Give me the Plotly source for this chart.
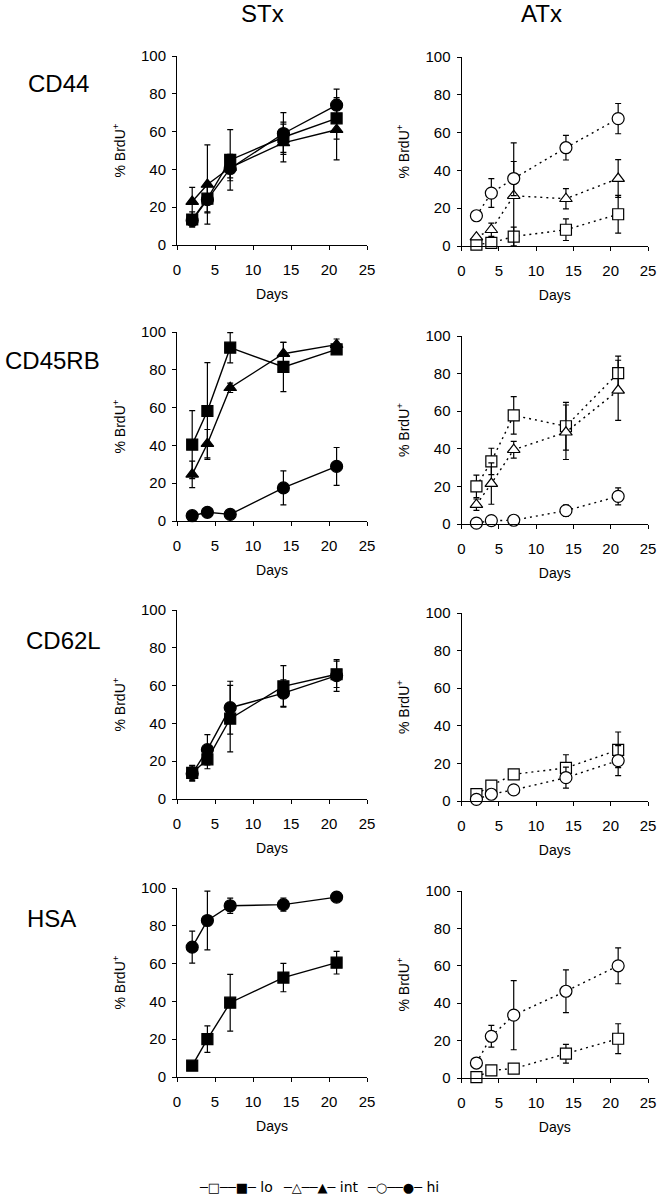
import plotly.graph_objects as go

W, H = 662, 1199

days = [2, 4, 7, 14, 21]

# CD44
cd44_stx_lo = [13.5, 24.5, 45, 57, 67]
cd44_stx_lo_err = [4, 7, 16, 8, 11]
cd44_stx_int = [23, 32, 41, 54, 61]
cd44_stx_int_err = [7.5, 21, 7, 10, 16]
cd44_stx_hi = [13, 24, 40.5, 59, 74]
cd44_stx_hi_err = [3, 7, 5, 11, 8.5]
cd44_atx_lo = [0.7, 1.7, 5, 8.6, 16.8]
cd44_atx_lo_err = [0, 0, 5, 5.7, 10]
cd44_atx_int = [4.7, 8.6, 26.6, 25, 35.7]
cd44_atx_int_err = [0, 3.5, 28, 5.4, 10]
cd44_atx_hi = [16, 28, 35.7, 52, 67.4]
cd44_atx_hi_err = [0, 7.6, 9, 6.5, 8]

# CD45RB
cd45_stx_lo = [40.4, 58.2, 91.7, 81.5, 90.8]
cd45_stx_lo_err = [18, 25.6, 8, 13, 2]
cd45_stx_int = [24.7, 40.9, 70.5, 88.5, 93.3]
cd45_stx_int_err = [7, 7.5, 2.5, 6, 3]
cd45_stx_hi = [2.8, 4.6, 3.5, 17.5, 28.9]
cd45_stx_hi_err = [0, 2.5, 0, 9, 10]
cd45_atx_lo = [20, 33.3, 57.8, 52, 80.3]
cd45_atx_lo_err = [6, 7, 10, 12.7, 9]
cd45_atx_int = [10.3, 21.5, 39.5, 48.8, 71.1]
cd45_atx_int_err = [3, 11, 4.5, 14.5, 16]
cd45_atx_hi = [0.5, 1.8, 2, 7.1, 14.7]
cd45_atx_hi_err = [0, 0, 0, 3, 4.5]

# CD62L
cd62_stx_lo = [13.8, 21, 42.5, 59.6, 66]
cd62_stx_lo_err = [4, 5, 17.6, 11, 7]
cd62_stx_hi = [13.4, 26.1, 48.3, 56, 65.3]
cd62_stx_hi_err = [4, 8, 14, 7, 8.4]
cd62_atx_lo = [3.7, 8.2, 14.2, 17.6, 27.2]
cd62_atx_lo_err = [0, 0, 0, 7, 9.5]
cd62_atx_hi = [0.9, 3.6, 5.9, 12.4, 21.5]
cd62_atx_hi_err = [0, 0, 0, 5.6, 8]

# HSA
hsa_stx_lo = [6, 20, 39.3, 52.6, 60.5]
hsa_stx_lo_err = [0, 7, 15, 7.5, 6]
hsa_stx_hi = [68.7, 82.8, 90.6, 91.2, 95.2]
hsa_stx_hi_err = [8.5, 15.5, 4, 3.5, 0]
hsa_atx_lo = [0.5, 4.1, 5, 13, 21]
hsa_atx_lo_err = [0, 0, 0, 5, 8]
hsa_atx_hi = [8, 22.3, 33.6, 46.4, 60]
hsa_atx_hi_err = [0, 5.8, 18.5, 11.4, 9.6]

row_labels = ["CD44", "CD45RB", "CD62L", "HSA"]
col_labels = ["STx", "ATx"]

panels = [
    [[("lo", cd44_stx_lo, cd44_stx_lo_err), ("int", cd44_stx_int, cd44_stx_int_err), ("hi", cd44_stx_hi, cd44_stx_hi_err)],
     [("lo", cd44_atx_lo, cd44_atx_lo_err), ("int", cd44_atx_int, cd44_atx_int_err), ("hi", cd44_atx_hi, cd44_atx_hi_err)]],
    [[("lo", cd45_stx_lo, cd45_stx_lo_err), ("int", cd45_stx_int, cd45_stx_int_err), ("hi", cd45_stx_hi, cd45_stx_hi_err)],
     [("lo", cd45_atx_lo, cd45_atx_lo_err), ("int", cd45_atx_int, cd45_atx_int_err), ("hi", cd45_atx_hi, cd45_atx_hi_err)]],
    [[("lo", cd62_stx_lo, cd62_stx_lo_err), ("hi", cd62_stx_hi, cd62_stx_hi_err)],
     [("lo", cd62_atx_lo, cd62_atx_lo_err), ("hi", cd62_atx_hi, cd62_atx_hi_err)]],
    [[("lo", hsa_stx_lo, hsa_stx_lo_err), ("hi", hsa_stx_hi, hsa_stx_hi_err)],
     [("lo", hsa_atx_lo, hsa_atx_lo_err), ("hi", hsa_atx_hi, hsa_atx_hi_err)]],
]

symbols = {"lo": "square", "int": "triangle-up", "hi": "circle"}
sizes = {"lo": 11, "int": 11, "hi": 12}

# pixel layout of the plot areas
col_x = [(177, 367), (461.5, 648)]
row_y = [[(56, 245), (332, 521), (610, 799), (888, 1077)],
         [(57, 246), (336, 524), (613, 801), (891, 1078)]]

FONT = "Liberation Sans, Arial, sans-serif"

fig = go.Figure()
layout = dict(width=W, height=H, margin=dict(l=0, r=0, t=0, b=0),
              paper_bgcolor="white", plot_bgcolor="white", showlegend=False,
              font=dict(family=FONT, color="black"))
annotations = []

n = 0
for r in range(4):
    for c in range(2):
        n += 1
        xa = "x" if n == 1 else "x%d" % n
        ya = "y" if n == 1 else "y%d" % n
        x0, x1 = col_x[c]
        ytop, ybot = row_y[c][r]
        layout["xaxis" if n == 1 else "xaxis%d" % n] = dict(
            domain=[x0 / W, x1 / W], anchor=ya, range=[0, 25], tick0=0, dtick=5,
            showline=True, linecolor="black", linewidth=1, ticks="outside",
            ticklen=4, tickcolor="black", tickwidth=1, showgrid=False,
            zeroline=False, tickfont=dict(size=15), ticklabelstandoff=7,
            automargin=False,
            title=dict(text="Days", font=dict(size=14), standoff=12))
        layout["yaxis" if n == 1 else "yaxis%d" % n] = dict(
            domain=[1 - ybot / H, 1 - ytop / H], anchor=xa, range=[0, 100],
            tick0=0, dtick=20, showline=True, linecolor="black", linewidth=1,
            ticks="outside", ticklen=4, tickcolor="black", tickwidth=1,
            showgrid=False, zeroline=False, tickfont=dict(size=15),
            ticklabelstandoff=3, automargin=False,
            title=dict(text="% BrdU<sup>+</sup>", font=dict(size=14), standoff=12))
        for name, vals, err in panels[r][c]:
            minus = [min(e, v) for e, v in zip(err, vals)]
            fill = "black" if c == 0 else "white"
            fig.add_trace(go.Scatter(
                x=days, y=vals, mode="lines+markers", xaxis=xa, yaxis=ya,
                cliponaxis=False, name=name,
                line=dict(color="black", width=1.4,
                          dash="solid" if c == 0 else "2px,4px"),
                marker=dict(symbol=symbols[name], size=sizes[name], color=fill,
                            line=dict(color="black", width=1.2)),
                error_y=dict(type="data", array=err, arrayminus=minus,
                             color="black", thickness=1.2, width=3)))

# column and row headings
for c, lab in enumerate(col_labels):
    annotations.append(dict(text=lab, xref="paper", yref="paper",
                            x=[262, 541][c] / W, y=1 - 14 / H, showarrow=False,
                            font=dict(size=24), xanchor="center", yanchor="middle"))
row_pos = [(58, 83), (52, 360), (63, 640), (51, 918)]
for lab, (px, py) in zip(row_labels, row_pos):
    annotations.append(dict(text=lab, xref="paper", yref="paper",
                            x=px / W, y=1 - py / H, showarrow=False,
                            font=dict(size=24), xanchor="center", yanchor="middle"))

# key at the bottom
key = [("\u2500\u25a1\u2500\u2500\u25a0\u2500", "lo", 197),
       ("\u2500\u25b3\u2500\u2500\u25b2\u2500", "int", 281),
       ("\u2500\u25cb\u2500\u2500\u25cf\u2500", "hi", 365)]
for glyphs, lab, px in key:
    annotations.append(dict(text="<span style='font-size:13px'>" + glyphs + "</span> " + lab,
                            xref="paper", yref="paper",
                            x=px / W, y=1 - 1187 / H, showarrow=False,
                            font=dict(size=14, family="DejaVu Sans"),
                            xanchor="left", yanchor="middle"))

layout["annotations"] = annotations
fig.update_layout(**layout)
# drop the default page margin so the figure sits at the window's corner
fig.write_html("out.html", config={"displayModeBar": False},
               post_script="document.body.style.margin='0px';")
